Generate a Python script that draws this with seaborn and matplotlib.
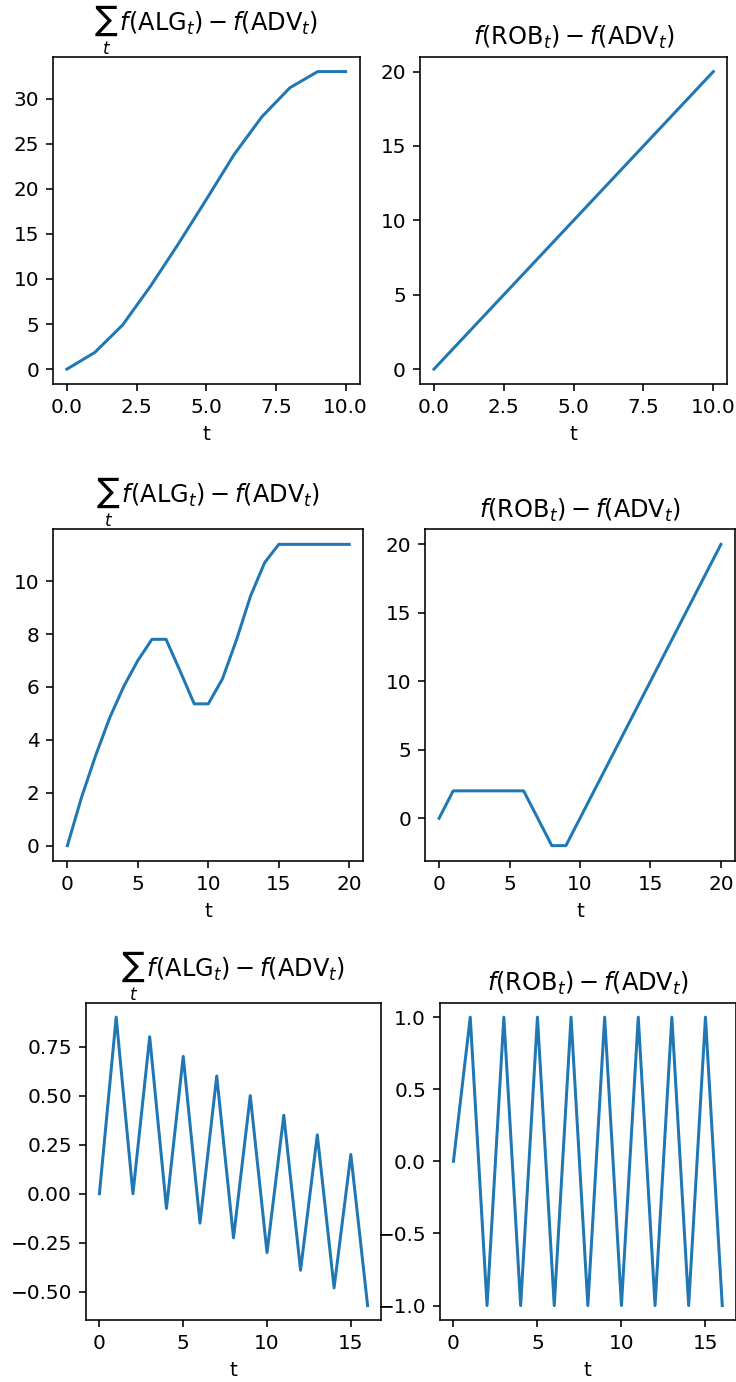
import numpy as np
import pandas as pd
import seaborn as sns
import matplotlib
matplotlib.use("Agg")
import matplotlib.pyplot as plt

# === DATOS ===
t_a = list(range(11))
alg_a = [0, 1.85, 4.9, 9.2, 13.9, 18.8, 23.8, 28.0, 31.2, 33.0, 33.0]
rob_a = [0, 2, 4, 6, 8, 10, 12, 14, 16, 18, 20]

t_b = list(range(21))
alg_b = [0, 1.82, 3.4, 4.83, 6.02, 7.0, 7.8, 7.8, 6.6, 5.36, 5.36,
         6.3, 7.78, 9.44, 10.7, 11.39, 11.39, 11.39, 11.39, 11.39, 11.39]
rob_b = [0, 2, 2, 2, 2, 2, 2, 0, -2, -2, 0, 2, 4, 6, 8, 10, 12, 14, 16, 18, 20]

t_c = list(range(17))
alg_c = [0, 0.9, 0, 0.8, -0.075, 0.7, -0.15, 0.6, -0.225, 0.5, -0.3,
         0.4, -0.39, 0.3, -0.48, 0.2, -0.57]
rob_c = [0, 1, -1, 1, -1, 1, -1, 1, -1, 1, -1, 1, -1, 1, -1, 1, -1]

titulo_alg = r"$\sum_t\, f(\mathrm{ALG}_t) - f(\mathrm{ADV}_t)$"
titulo_rob = r"$f(\mathrm{ROB}_t) - f(\mathrm{ADV}_t)$"

W, H = 736, 1382
DPI = 144
fig = plt.figure(figsize=(W / DPI, H / DPI), dpi=DPI)


def eje(l, r, t, b):
    # rectangulo en pixeles -> fracciones de figura
    return fig.add_axes([l / W, 1 - b / H, (r - l) / W, (b - t) / H])


paneles = [
    ((53, 359.5, 56.7, 384), t_a, alg_a, titulo_alg),
    ((420, 727.3, 56.7, 384), t_a, rob_a, titulo_rob),
    ((53.3, 363.3, 529.3, 860.7), t_b, alg_b, titulo_alg),
    ((425, 735, 529.3, 860.7), t_b, rob_b, titulo_rob),
    ((86, 381, 1002.7, 1320), t_c, alg_c, titulo_alg),
    ((440, 735.7, 1002.7, 1320), t_c, rob_c, titulo_rob),
]

for rect, t, y, titulo in paneles:
    ax = eje(*rect)
    df = pd.DataFrame({"t": t, "valor": y})
    sns.lineplot(data=df, x="t", y="valor", ax=ax, color="#1f77b4")
    ax.set_title(titulo)
    ax.set_xlabel("t")
    ax.set_ylabel("")

fig.savefig("out.png", dpi=DPI)
plt.close(fig)
